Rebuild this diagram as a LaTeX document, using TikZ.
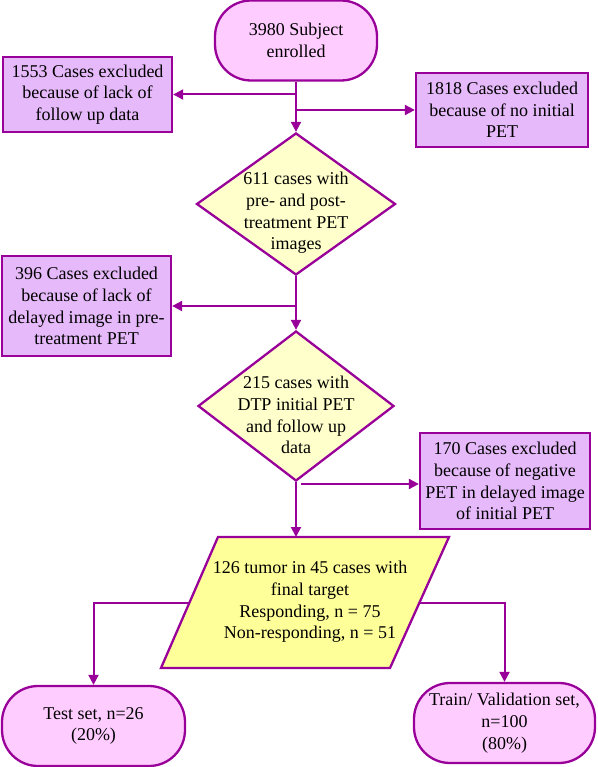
\documentclass[tikz,border=0pt]{standalone}
\usepackage{fontspec}
\setmainfont{Liberation Serif}
\usetikzlibrary{shapes.geometric,arrows.meta,calc}
\definecolor{pborder}{HTML}{990099}
\definecolor{termfill}{HTML}{FFCCFF}
\definecolor{boxfill}{HTML}{E6B9FA}
\definecolor{diafill}{HTML}{FFFFCC}
\definecolor{parfill}{HTML}{FFFF99}
\begin{document}
\begin{tikzpicture}[x=1pt,y=-1pt,
  font=\fontsize{18}{21.7}\selectfont,
  term/.style={draw=pborder, line width=2.3pt, fill=termfill, rounded corners=36pt, align=center, inner sep=0pt},
  exbox/.style={draw=pborder, line width=2.3pt, fill=boxfill, align=center, inner sep=0pt},
  dia/.style={diamond, draw=pborder, line width=2.3pt, fill=diafill, inner sep=0pt},
  txt/.style={align=center, inner sep=0pt},
  conn/.style={draw=pborder, line width=2pt, -{Triangle[length=10pt,width=10pt]}},
  plain/.style={draw=pborder, line width=2pt}]
\useasboundingbox (0,0) rectangle (597,767);

% top terminal
\node[term, minimum width=162pt, minimum height=80pt] (t0) at (296,40.5) {3980 Subject\\enrolled};

% exclusion boxes
\node[exbox, minimum width=169pt, minimum height=75pt] (b1) at (87.5,94.5) {1553 Cases excluded\\because of lack of\\follow up data};
\node[exbox, minimum width=172pt, minimum height=74pt] (b2) at (502,110) {1818 Cases excluded\\because of no initial\\PET};
\node[exbox, minimum width=169pt, minimum height=100pt] (b3) at (86.5,306) {396 Cases excluded\\because of lack of\\delayed image in pre-\\treatment PET};
\node[exbox, minimum width=170pt, minimum height=96pt] (b4) at (505,481) {170 Cases excluded\\because of negative\\PET in delayed image\\of initial PET};

% diamonds
\node[dia, minimum width=199pt, minimum height=142pt] (d1) at (296,204) {};
\node[txt] (d1t) at (296,213) {611 cases with\\pre- and post-\\treatment PET\\images};
\node[dia, minimum width=196pt, minimum height=150pt] (d2) at (296,406) {};
\node[txt] (d2t) at (296,415) {215 cases with\\DTP initial PET\\and follow up\\data};

% parallelogram
\coordinate (ptl) at (218,537);
\coordinate (ptr) at (449,537);
\coordinate (pbr) at (390,668);
\coordinate (pbl) at (161,668);
\draw[draw=pborder, line width=2.3pt, fill=parfill, line join=miter] (ptl) -- (ptr) -- (pbr) -- (pbl) -- cycle;
\node[txt] (p) at (310,602) {126 tumor in 45 cases with\\final target\\Responding, n = 75\\Non-responding, n = 51};
\coordinate (ptop) at (296,537);
\coordinate (pl) at (189.3,603);
\coordinate (pr) at (419.3,603);

% bottom terminals
\node[term, minimum width=183pt, minimum height=80pt] (tl) at (93.5,726) {Test set, n=26\\(20\%)};
\node[term, minimum width=181pt, minimum height=80pt] (tr) at (504.5,723) {Train/ Validation set,\\n=100\\(80\%)};

% connectors
\draw[conn] (t0.south) -- (d1.north);
\draw[conn] (t0.south |- b1.east) -- (b1.east);
\draw[conn] (t0.south |- b2.west) -- (b2.west);
\draw[conn] (d1.south) -- (d2.north);
\draw[conn] (d1.south |- b3.east) -- (b3.east);
\coordinate (j4) at (301,484);
\draw[conn] (j4) -- (b4.west |- j4);
\draw[conn] (d2.south) -- (ptop);
\draw[conn] (pl) -| (tl.north);
\draw[conn] (pr) -| (tr.north);
\end{tikzpicture}
\end{document}
